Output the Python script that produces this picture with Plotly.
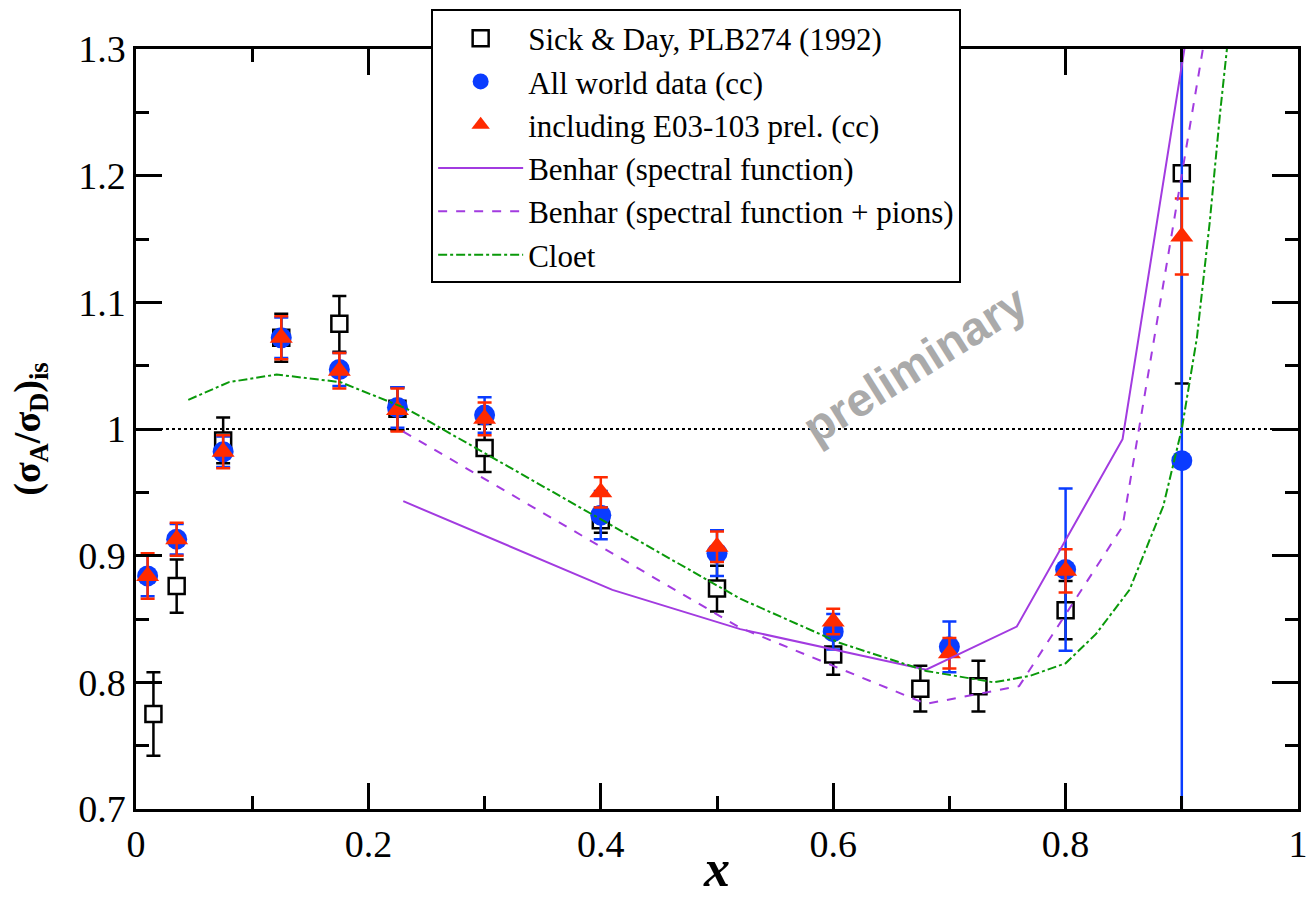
import plotly.graph_objects as go

# Sick & Day, PLB274 (1992)
sd_x = [0.015, 0.035, 0.075, 0.125, 0.175, 0.225, 0.3, 0.4, 0.5, 0.6, 0.675, 0.725, 0.8, 0.9]
sd_y = [0.775, 0.876, 0.991, 1.072, 1.083, 1.016, 0.985, 0.928, 0.874, 0.822, 0.795, 0.797, 0.857, 1.202]
sd_e = [0.033, 0.021, 0.018, 0.019, 0.022, 0.017, 0.019, 0.010, 0.018, 0.016, 0.018, 0.020, 0.023, 0.166]

# All world data (cc)
wd_x = [0.01, 0.035, 0.075, 0.125, 0.175, 0.225, 0.3, 0.4, 0.5, 0.6, 0.7, 0.8, 0.9]
wd_y = [0.884, 0.913, 0.982, 1.072, 1.047, 1.017, 1.011, 0.932, 0.902, 0.840, 0.828, 0.889, 0.975]
wd_e = [0.016, 0.012, 0.012, 0.016, 0.013, 0.016, 0.014, 0.019, 0.018, 0.014, 0.020, 0.064, 0.400]

# including E03-103 prel. (cc)
e03_x = [0.01, 0.035, 0.075, 0.125, 0.175, 0.225, 0.3, 0.4, 0.5, 0.6, 0.7, 0.8, 0.9]
e03_y = [0.884, 0.913, 0.982, 1.072, 1.046, 1.015, 1.008, 0.950, 0.907, 0.848, 0.823, 0.888, 1.152]
e03_e = [0.018, 0.013, 0.013, 0.017, 0.014, 0.017, 0.013, 0.012, 0.012, 0.010, 0.012, 0.017, 0.030]

# Benhar (spectral function)
bs_x = [0.23, 0.41, 0.52, 0.68, 0.758, 0.849, 0.905]
bs_y = [0.943, 0.873, 0.842, 0.810, 0.844, 0.992, 1.316]

# Benhar (spectral function + pions)
bp_x = [0.23, 0.52, 0.68, 0.76, 0.849, 0.92]
bp_y = [0.998, 0.843, 0.783, 0.797, 0.923, 1.31]

# Cloet
cl_x = [0.045, 0.08, 0.121, 0.176, 0.233, 0.296, 0.399, 0.52, 0.606, 0.68, 0.738,
        0.769, 0.8, 0.826, 0.855, 0.884, 0.9, 0.913, 0.924, 0.933, 0.94]
cl_y = [1.023, 1.037, 1.043, 1.037, 1.016, 0.983, 0.929, 0.866, 0.831, 0.809, 0.800,
        0.805, 0.815, 0.838, 0.873, 0.939, 1.0, 1.072, 1.163, 1.25, 1.31]

ref_x = [0, 1]
ref_y = [1, 1]

BLUE = "#0a3cff"
RED = "#ff2a00"
PURPLE = "#a23be0"
GREEN = "#0a990a"
SERIF = "Liberation Serif, Times New Roman, serif"

fig = go.Figure()

fig.add_trace(go.Scatter(x=ref_x, y=ref_y, mode="lines", showlegend=False,
                         line=dict(color="black", width=2, dash="dot"), hoverinfo="skip"))

fig.add_trace(go.Scatter(
    x=sd_x, y=sd_y, mode="markers", name="Sick & Day, PLB274 (1992)", legendgroup="a",
    marker=dict(symbol="square", size=16, color="white", line=dict(color="black", width=2.5)),
    error_y=dict(type="data", array=sd_e, color="black", thickness=2.5, width=7)))

fig.add_trace(go.Scatter(
    x=wd_x, y=wd_y, mode="markers", name="All world data (cc)", legendgroup="b",
    marker=dict(symbol="circle", size=21, color=BLUE),
    error_y=dict(type="data", array=wd_e, color=BLUE, thickness=2.5, width=7)))

fig.add_trace(go.Scatter(
    x=e03_x, y=e03_y, mode="markers", name="including E03-103 prel. (cc)", legendgroup="c",
    marker=dict(symbol="triangle-up", size=20, color=RED),
    error_y=dict(type="data", array=e03_e, color=RED, thickness=2.5, width=7)))

fig.add_trace(go.Scatter(x=bs_x, y=bs_y, mode="lines", name="Benhar (spectral function)",
                         legendgroup="d", line=dict(color=PURPLE, width=2)))
fig.add_trace(go.Scatter(x=bp_x, y=bp_y, mode="lines", name="Benhar (spectral function + pions)",
                         legendgroup="e", line=dict(color=PURPLE, width=2, dash="dash")))
fig.add_trace(go.Scatter(x=cl_x, y=cl_y, mode="lines", name="Cloet", legendgroup="f",
                         line=dict(color=GREEN, width=2, dash="dashdot")))

fig.add_annotation(x=0.670, y=1.051, xref="x", yref="y", text="<b>preliminary</b>",
                   showarrow=False, textangle=-32,
                   font=dict(family="Liberation Sans, Arial, sans-serif", size=47, color="#aaaaaa"))

axis_common = dict(
    showline=True, linecolor="black", linewidth=2.5, mirror="ticks",
    ticks="inside", ticklen=26, tickwidth=2.5, tickcolor="black",
    showgrid=False, zeroline=False, automargin=False,
    tickfont=dict(family=SERIF, size=38, color="black"),
)

fig.update_xaxes(range=[0, 1], tick0=0, dtick=0.2,
                 minor=dict(dtick=0.1, ticks="inside", ticklen=13, tickwidth=2.5, tickcolor="black"),
                 title=dict(text="<b><i>x</i></b>", font=dict(family=SERIF, size=52, color="black"), standoff=10),
                 **axis_common)
fig.update_yaxes(range=[0.7, 1.3], tick0=0.7, dtick=0.1,
                 minor=dict(dtick=0.05, ticks="inside", ticklen=13, tickwidth=2.5, tickcolor="black"),
                 title=dict(text="<b>(σ<sub>A</sub>/σ<sub>D</sub>)<sub>is</sub></b>",
                            font=dict(family=SERIF, size=38, color="black"), standoff=26),
                 **axis_common)

fig.update_layout(
    width=1308, height=897,
    margin=dict(l=136, r=10, t=45, b=88),
    paper_bgcolor="white", plot_bgcolor="white",
    legend=dict(x=0.254, y=1.052, xanchor="left", yanchor="top",
                bgcolor="white", bordercolor="black", borderwidth=2,
                font=dict(family=SERIF, size=31, color="black"),
                tracegroupgap=0, itemwidth=85, traceorder="normal"),
)

fig.write_html("out.html")
